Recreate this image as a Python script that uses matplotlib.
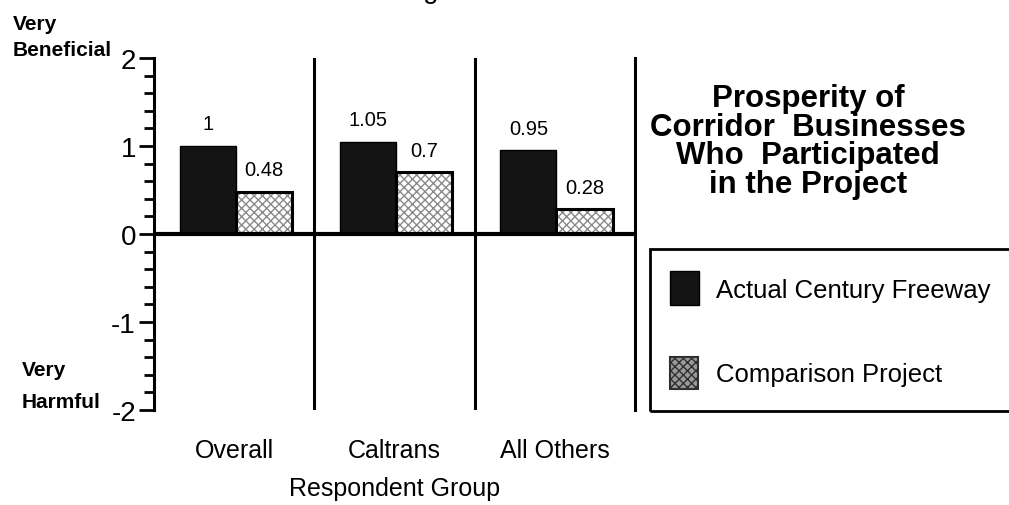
import matplotlib.pyplot as plt
from matplotlib.patches import Rectangle

plt.rcParams['font.family'] = ['Liberation Sans', 'DejaVu Sans']
plt.rcParams['axes.unicode_minus'] = False

groups = ['Overall', 'Caltrans', 'All Others']
actual = [1.0, 1.05, 0.95]
comparison = [0.48, 0.7, 0.28]
series_names = ['Actual Century Freeway', 'Comparison Project']
title_lines = ['Prosperity of', 'Corridor  Businesses', 'Who  Participated', 'in the Project']
y_ticks = [-2, -1, 0, 1, 2]

W, H = 1009, 506
fig = plt.figure(figsize=(W / 100, H / 100), dpi=100)
ax = fig.add_axes([154 / W, 1 - 411 / H, (635 - 154) / W, (411 - 59) / H])

x = range(len(groups))
bw = 0.35
dark_x = [i - 0.165 for i in x]
light_x = [i + 0.185 for i in x]

ax.bar(dark_x, actual, bw, color='#141414', edgecolor='black', lw=1, zorder=3)
# light bars: grey stipple under a black outline
ax.bar(light_x, comparison, bw, color='white', edgecolor='#8a8a8a', hatch='xxxx', lw=0, zorder=3)
ax.bar(light_x, comparison, bw, fill=False, edgecolor='black', lw=2.2, zorder=4)

for xs, vals in [(dark_x, actual), (light_x, comparison)]:
    for xi, v in zip(xs, vals):
        ax.annotate(f'{v:g}', (xi, v), xytext=(0, 9), textcoords='offset points',
                    ha='center', va='bottom', fontsize=14.5)

ax.set_xlim(-0.5, 2.5)
ax.set_ylim(-2, 2)
ax.axhline(0, color='black', lw=3, zorder=5)
for sep in [0.5, 1.5]:
    ax.axvline(sep, color='black', lw=2.2)

for s in ['top', 'bottom']:
    ax.spines[s].set_visible(False)
for s in ['left', 'right']:
    ax.spines[s].set_linewidth(2.2)

ax.set_yticks(y_ticks)
ax.set_yticklabels([str(t) for t in y_ticks], fontsize=20)
ax.set_yticks([t / 5 for t in range(-10, 11)], minor=True)
ax.tick_params(axis='y', which='major', direction='out', length=11, width=2, pad=2)
ax.tick_params(axis='y', which='minor', direction='out', length=7, width=2)
ax.set_xticks(list(x))
ax.set_xticklabels(groups, fontsize=18)
ax.tick_params(axis='x', length=0, pad=20)
ax.set_xlabel('Respondent Group', fontsize=18, labelpad=10)

# scale end captions, one line at a time
for txt, px, py in [('Very', 13, 30), ('Beneficial', 13, 56), ('Very', 22, 376), ('Harmful', 22, 408)]:
    fig.text(px / W, 1 - py / H, txt, fontsize=15, fontweight='bold', ha='left', va='baseline')

# page caption, mostly above the top edge
fig.text(463 / W, 1 + 2 / H, 'Figure 4-3', fontsize=20, ha='center', va='baseline')

for i, line in enumerate(title_lines):
    fig.text(808 / W, 1 - (107 + 28.5 * i) / H, line, fontsize=22.5, fontweight='bold',
             ha='center', va='baseline')

# legend box runs off the right edge
fig.patches.append(Rectangle((650 / W, 1 - 412 / H), 400 / W, 162 / H, transform=fig.transFigure,
                             fill=False, edgecolor='black', lw=2, clip_on=False))
for name, top, base, style in [(series_names[0], 272, 298, 'dark'), (series_names[1], 358, 382, 'light')]:
    if style == 'dark':
        fig.patches.append(Rectangle((670 / W, 1 - (top + 34) / H), 29 / W, 34 / H,
                                     transform=fig.transFigure, facecolor='#141414', edgecolor='black'))
    else:
        fig.patches.append(Rectangle((670 / W, 1 - (top + 32) / H), 28 / W, 32 / H,
                                     transform=fig.transFigure, facecolor='#9a9a9a',
                                     edgecolor='#303030', hatch='xxxx', lw=1.5))
    fig.text(716 / W, 1 - base / H, name, fontsize=18.5, ha='left', va='baseline')

fig.savefig('out.png', dpi=100)
